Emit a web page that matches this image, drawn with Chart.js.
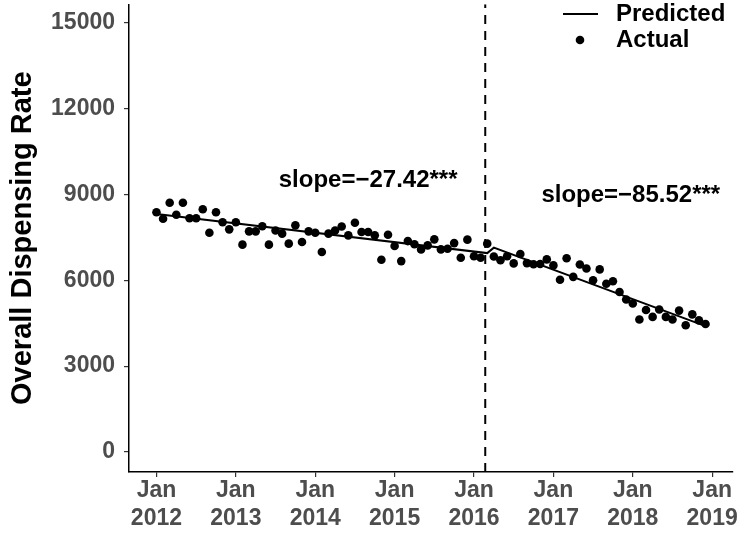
<!DOCTYPE html>
<html>
<head>
<meta charset="utf-8">
<script src="https://cdn.jsdelivr.net/npm/chart.js@4"></script>
<style>
  body { margin: 0; background: #fff; }
  #wrap { width: 750px; height: 535px; }
</style>
</head>
<body>
<div id="wrap"><canvas id="chart" width="750" height="535"></canvas></div>
<script>
// Monthly dispensing rate, Jan 2012 (month 0) .. Dec 2018 (month 83)
const actual = [
  8380, 8150, 8710, 8290, 8710, 8170, 8170, 8480, 7660, 8380, 8030, 7780,
  8030, 7245, 7710, 7710, 7890, 7245, 7740, 7630, 7280, 7920, 7340, 7710,
  7660, 6990, 7630, 7740, 7880, 7570, 8010, 7690, 7690, 7570, 6720, 7590,
  7200, 6670, 7370, 7260, 7080, 7220, 7430, 7080, 7100, 7300, 6790, 7420,
  6840, 6790, 7280, 6830, 6700, 6840, 6590, 6920, 6600, 6560, 6570, 6730,
  6520, 6020, 6770, 6120, 6550, 6410, 6000, 6380, 5880, 5965, 5590, 5330,
  5190, 4630, 4960, 4720, 4980, 4720, 4630, 4940, 4430, 4810, 4600, 4470
];

// fitted segmented line (break points)
const predictedMonths = [0, 50, 51, 83];
const predicted = [8320, 6950, 7140, 4400];

const interventionMonth = 49.7;
const xTicks = [0, 12, 24, 36, 48, 60, 72, 84];
const xTickYears = ['2012', '2013', '2014', '2015', '2016', '2017', '2018', '2019'];
const yTicks = [0, 3000, 6000, 9000, 12000, 15000];
const yMin = -700;
const yMax = 15645;

const slopeLabels = [
  { text: 'slope=\u221227.42***', month: 32, value: 9490 },
  { text: 'slope=\u221285.52***', month: 71.7, value: 8960 }
];

const FONT = "'Liberation Sans', Arial, sans-serif";

const annotationPlugin = {
  id: 'annotations',
  afterDraw(chart) {
    const ctx = chart.ctx;
    const xs = chart.scales.x, ys = chart.scales.y;
    ctx.save();
    ctx.fillStyle = '#000';
    ctx.font = 'bold 24px ' + FONT;
    ctx.textAlign = 'center';
    ctx.textBaseline = 'middle';
    slopeLabels.forEach(l => {
      ctx.fillText(l.text, xs.getPixelForValue(l.month), ys.getPixelForValue(l.value));
    });

    // legend, top right
    ctx.textAlign = 'left';
    ctx.strokeStyle = '#000';
    ctx.lineWidth = 2;
    ctx.beginPath();
    ctx.moveTo(563, 14);
    ctx.lineTo(598, 14);
    ctx.stroke();
    ctx.fillText('Predicted', 616, 14);
    ctx.beginPath();
    ctx.arc(580, 40, 4.3, 0, Math.PI * 2);
    ctx.fill();
    ctx.fillText('Actual', 616, 40);
    ctx.restore();
  }
};

const actualPoints = actual.map((v, i) => ({ x: i, y: v }));
const predictedPoints = predictedMonths.map((m, i) => ({ x: m, y: predicted[i] }));

const tickFont = { family: FONT, size: 23, weight: 'bold', lineHeight: 1.2 };

const chart = new Chart(document.getElementById('chart').getContext('2d'), {
  type: 'scatter',
  data: {
    datasets: [
      {
        label: 'Actual',
        data: actualPoints,
        pointRadius: 4.3,
        pointBackgroundColor: '#000',
        pointBorderWidth: 0,
        order: 1
      },
      {
        type: 'line',
        label: 'Predicted',
        data: predictedPoints,
        borderColor: '#000',
        borderWidth: 2,
        pointRadius: 0,
        fill: false,
        tension: 0,
        order: 2
      },
      {
        type: 'line',
        label: 'Intervention',
        data: [{ x: interventionMonth, y: yMin }, { x: interventionMonth, y: yMax }],
        borderColor: '#000',
        borderWidth: 2,
        borderDash: [9, 7],
        pointRadius: 0,
        fill: false,
        order: 3
      }
    ]
  },
  options: {
    responsive: false,
    animation: false,
    layout: { padding: { top: 0, right: 17, bottom: 0, left: 0 } },
    plugins: { legend: { display: false }, tooltip: { enabled: false } },
    scales: {
      x: {
        type: 'linear',
        min: -4.15,
        max: 87.15,
        afterBuildTicks: s => { s.ticks = xTicks.map(v => ({ value: v })); },
        afterFit: s => { s.height = 63; s.paddingLeft = 0; s.paddingRight = 0; s.paddingTop = 0; },
        ticks: {
          autoSkip: false,
          maxRotation: 0,
          padding: 0,
          color: '#4d4d4d',
          font: tickFont,
          callback: (v, i) => ['Jan', xTickYears[i]]
        },
        grid: { drawOnChartArea: false, tickLength: 5, color: '#333', lineWidth: 1.2 },
        border: { color: '#000', width: 1.5 }
      },
      y: {
        min: yMin,
        max: yMax,
        afterBuildTicks: s => { s.ticks = yTicks.map(v => ({ value: v })); },
        afterFit: s => { s.width = 129; s.paddingTop = 0; s.paddingBottom = 0; },
        ticks: { padding: 9, color: '#4d4d4d', font: tickFont, callback: v => String(v) },
        grid: { drawOnChartArea: false, tickLength: 5, color: '#333', lineWidth: 1.2 },
        border: { color: '#000', width: 1.5 },
        title: {
          display: true,
          text: 'Overall Dispensing Rate',
          color: '#000',
          font: { family: FONT, size: 29, weight: 'bold', lineHeight: 1.2 },
          padding: { top: 6, bottom: 0 }
        }
      }
    }
  },
  plugins: [annotationPlugin]
});
</script>
</body>
</html>
